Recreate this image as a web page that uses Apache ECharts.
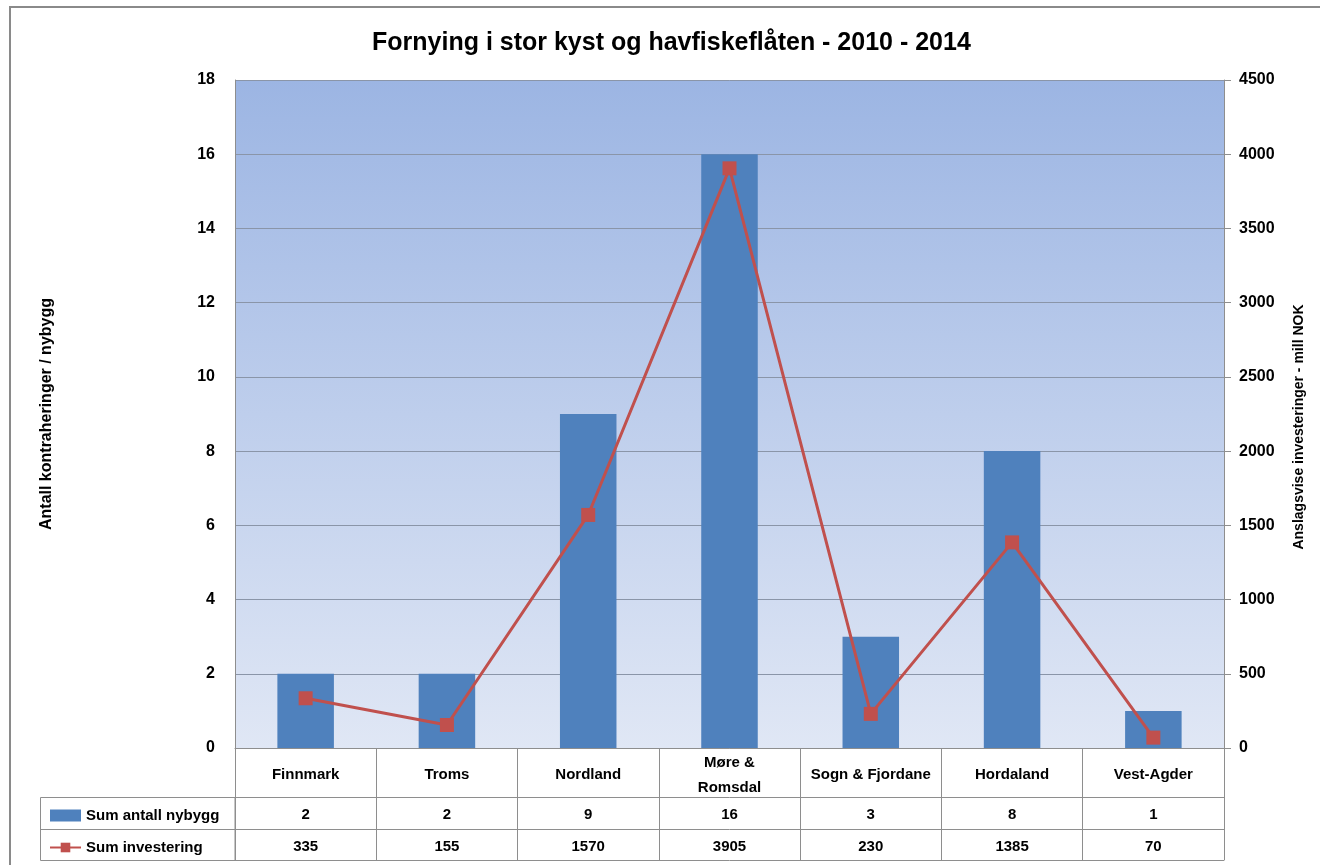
<!DOCTYPE html>
<html>
<head>
<meta charset="utf-8">
<script src="https://cdn.jsdelivr.net/npm/echarts@6/dist/echarts.min.js"></script>
<style>
html, body { margin: 0; padding: 0; background: #fff; }
#chart { width: 1320px; height: 865px; }
</style>
</head>
<body>
<div id="chart"></div>
<script>
var fylker = ['Finnmark', 'Troms', 'Nordland', 'Møre &\nRomsdal', 'Sogn & Fjordane', 'Hordaland', 'Vest-Agder'];
var nybygg = [2, 2, 9, 16, 3, 8, 1];
var investering = [335, 155, 1570, 3905, 230, 1385, 70];

var blue = '#4F81BD';
var red = '#C0504D';
var lineGrey = '#8E8E8E';
var font = 'Liberation Sans';

var myChart = echarts.init(document.getElementById('chart'));

// extra x axes that make up the data table under the plot
function tableAxis(offset, values) {
    return {
        type: 'category',
        position: 'bottom',
        offset: offset,
        data: values,
        axisLine: { show: true, onZero: false, lineStyle: { color: lineGrey, width: 1 } },
        axisTick: { show: false },
        axisLabel: {
            show: !!values.length,
            margin: 10,
            color: '#000',
            fontFamily: font,
            fontWeight: 'bold',
            fontSize: 15
        }
    };
}

var option = {
    backgroundColor: '#fff',
    textStyle: { fontFamily: font },
    title: {
        text: 'Fornying i stor kyst og havfiskeflåten - 2010 - 2014',
        left: 367,
        top: 26,
        textStyle: { color: '#000', fontFamily: font, fontWeight: 'bold', fontSize: 25 }
    },
    legend: {
        orient: 'vertical',
        left: 44,
        top: 803,
        itemGap: 17,
        itemWidth: 31,
        itemHeight: 12,
        textStyle: { color: '#000', fontFamily: font, fontWeight: 'bold', fontSize: 15 },
        data: [
            { name: 'Sum antall nybygg', icon: 'rect' },
            { name: 'Sum investering' }
        ]
    },
    grid: {
        left: 235,
        right: 96,
        top: 80,
        bottom: 117,
        show: true,
        borderWidth: 0,
        backgroundColor: {
            type: 'linear', x: 0, y: 0, x2: 0, y2: 1,
            colorStops: [
                { offset: 0, color: '#9CB5E3' },
                { offset: 1, color: '#E0E7F5' }
            ]
        }
    },
    xAxis: [
        {
            type: 'category',
            data: fylker,
            axisLine: { onZero: false, lineStyle: { color: lineGrey, width: 1 } },
            axisTick: { show: true, interval: 0, length: 112, lineStyle: { color: lineGrey } },
            axisLabel: {
                interval: 0,
                margin: 27,
                verticalAlign: 'middle',
                color: '#000',
                fontFamily: font,
                fontWeight: 'bold',
                fontSize: 15,
                lineHeight: 25
            }
        },
        tableAxis(49, nybygg.map(String)),
        tableAxis(81, investering.map(String)),
        tableAxis(112, [])
    ],
    yAxis: [
        {
            type: 'value',
            min: 0,
            max: 18,
            interval: 2,
            name: 'Antall kontraheringer / nybygg',
            nameLocation: 'middle',
            nameGap: 180,
            nameTextStyle: { color: '#000', fontFamily: font, fontWeight: 'bold', fontSize: 16 },
            axisLine: { show: true, lineStyle: { color: lineGrey } },
            axisTick: { show: false },
            axisLabel: { margin: 20, color: '#000', fontFamily: font, fontWeight: 'bold', fontSize: 16 },
            splitLine: { lineStyle: { color: '#8A95A8', width: 1 } }
        },
        {
            type: 'value',
            position: 'right',
            min: 0,
            max: 4500,
            interval: 500,
            name: 'Anslagsvise investeringer - mill NOK',
            nameLocation: 'middle',
            nameGap: 68,
            nameTextStyle: { color: '#000', fontFamily: font, fontWeight: 'bold', fontSize: 14, padding: [0, 26, 0, 0] },
            axisLine: { show: true, lineStyle: { color: lineGrey } },
            axisTick: { show: true, length: 7, lineStyle: { color: lineGrey } },
            axisLabel: {
                margin: 15, color: '#000', fontFamily: font, fontWeight: 'bold', fontSize: 16,
                formatter: function (v) { return String(v); }
            },
            splitLine: { show: false }
        }
    ],
    graphic: [
        {
            type: 'rect',
            shape: { x: 10, y: 7, width: 1330, height: 880 },
            style: { fill: 'none', stroke: '#8A8A8A', lineWidth: 2 },
            silent: true
        },
        {
            type: 'rect',
            shape: { x: 40.5, y: 797.5, width: 194.5, height: 63 },
            style: { fill: 'none', stroke: lineGrey, lineWidth: 1 },
            silent: true
        },
        {
            type: 'line',
            shape: { x1: 40.5, y1: 829.5, x2: 235, y2: 829.5 },
            style: { stroke: lineGrey, lineWidth: 1 },
            silent: true
        }
    ],
    series: [
        {
            name: 'Sum antall nybygg',
            type: 'bar',
            barWidth: '40%',
            itemStyle: { color: blue },
            data: nybygg
        },
        {
            name: 'Sum investering',
            type: 'line',
            yAxisIndex: 1,
            symbol: 'rect',
            symbolSize: 14,
            itemStyle: { color: red },
            lineStyle: { color: red, width: 3 },
            data: investering
        }
    ]
};

myChart.setOption(option);
</script>
</body>
</html>
